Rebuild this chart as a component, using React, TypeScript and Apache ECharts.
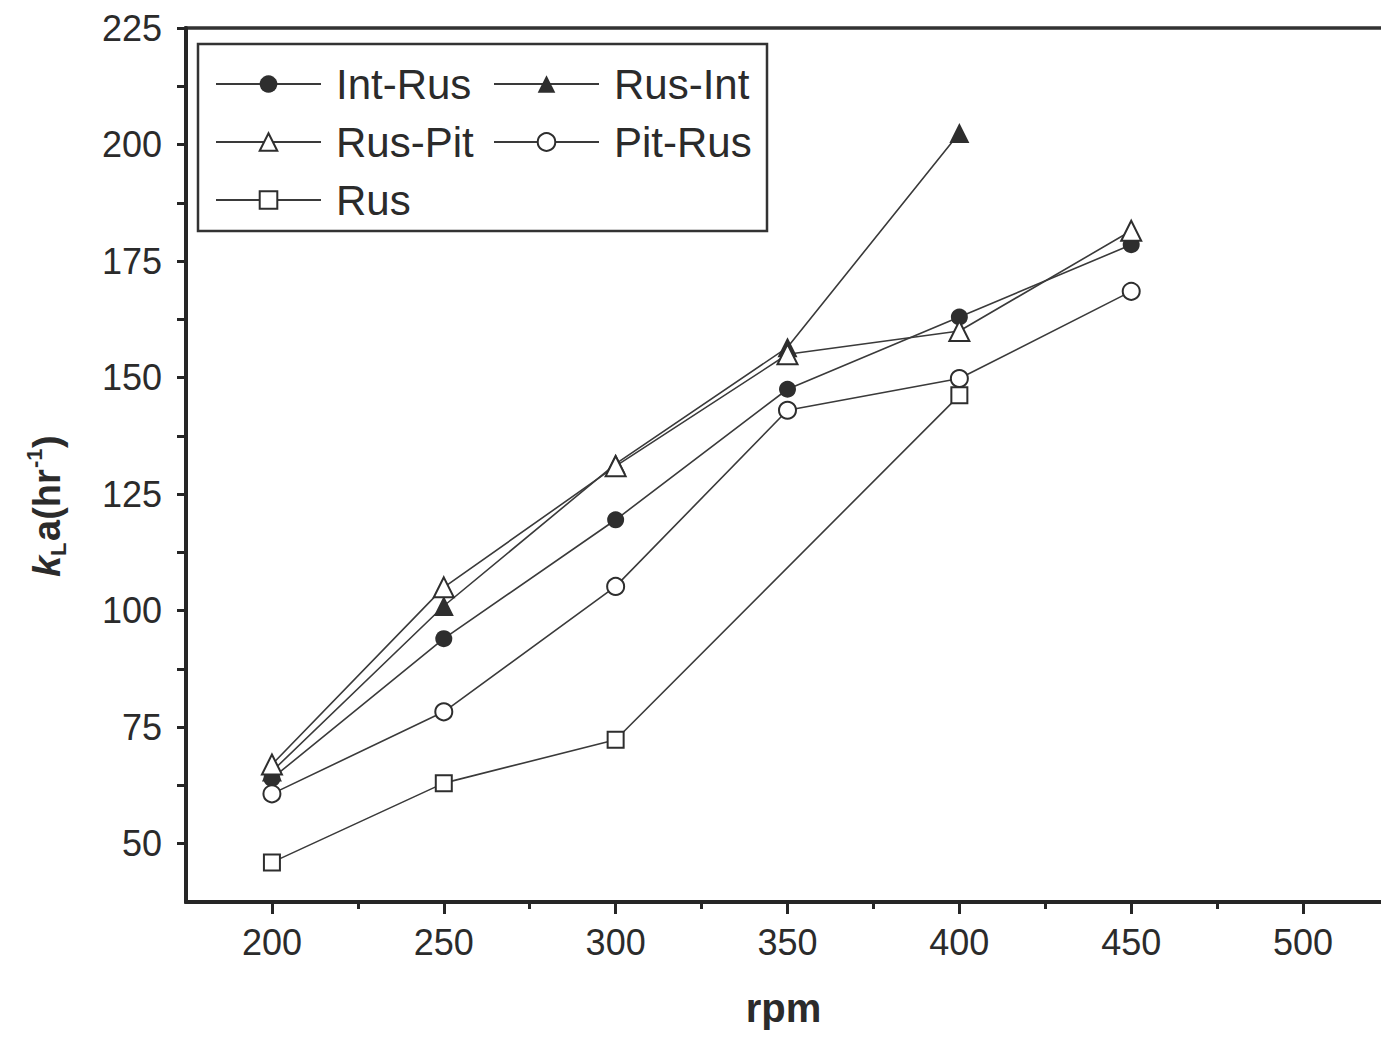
import React, { useEffect, useRef } from "react";
import * as echarts from "echarts";

// Stirring speed (rpm) and kLa (hr^-1) for each impeller combination
const rpm = [200, 250, 300, 350, 400, 450];
const intRus = [64, 94, 119.5, 147.5, 163, 178.5];
const rusInt = [65.5, 101, 131.5, 156.5, 202.5];
const rusPit = [67, 105, 131, 155, 160, 181.5];
const pitRus = [60.7, 78.3, 105.2, 143, 149.8, 168.5];
const rusRpm = [200, 250, 300, 400];
const rus = [46, 63, 72.3, 146.2];

const xLabelValues = [200, 250, 300, 350, 400, 450, 500];
const xMinorTicks = [225, 275, 325, 375, 425, 475, 525];
const yLabelValues = [50, 75, 100, 125, 150, 175, 200, 225];
const yTickValues = [50, 62.5, 75, 87.5, 100, 112.5, 125, 137.5, 150, 162.5, 175, 187.5, 200, 212.5, 225];

const FONT = "'Liberation Sans', Arial, sans-serif";
const INK = "#2b2b2b";
const LINE = "#3a3a3a";

const pair = (xs: number[], ys: number[]) => ys.map((y, i) => [xs[i], y]);

export default function App() {
  const ref = useRef<HTMLDivElement>(null);

  useEffect(() => {
    if (!ref.current) return;
    const chart = echarts.init(ref.current, undefined, { renderer: "svg" });

    const lineSeries = (name: string, data: number[][], symbol: string, size: number) => ({
      name,
      type: "line",
      data,
      symbol,
      symbolSize: size,
      xAxisIndex: 0,
      yAxisIndex: 0,
      lineStyle: { color: LINE, width: 1.6 },
      itemStyle: { color: "#2e2e2e", borderWidth: 2.4 },
      emphasis: { disabled: true },
    });

    const legendBase = {
      orient: "vertical",
      top: 63,
      itemWidth: 105,
      itemHeight: 22,
      itemGap: 16,
      padding: 0,
      selectedMode: false,
      textStyle: { fontSize: 42, color: INK, fontFamily: FONT, padding: [0, 0, 0, 10] },
    };

    chart.setOption({
      animation: false,
      backgroundColor: "#ffffff",
      grid: {
        left: 186,
        top: 28,
        right: 0,
        bottom: 142,
        show: true,
        borderColor: "#333",
        borderWidth: 3.5,
        containLabel: false,
      },
      legend: [
        { ...legendBase, left: 215, data: ["Int-Rus", "Rus-Pit", "Rus"] },
        { ...legendBase, left: 493, data: ["Rus-Int", "Pit-Rus"] },
      ],
      xAxis: [
        {
          type: "value",
          min: 175,
          max: 525,
          interval: 25,
          position: "bottom",
          name: "rpm",
          nameLocation: "middle",
          nameGap: 86,
          nameTextStyle: { fontSize: 40, fontWeight: "bold", color: INK, fontFamily: FONT, padding: [0, 8, 0, 0] },
          axisLine: { show: true, lineStyle: { color: "#262626", width: 4 } },
          axisTick: { show: true, customValues: xLabelValues, length: 12, lineStyle: { color: "#262626", width: 3 } },
          axisLabel: {
            customValues: xLabelValues,
            margin: 22,
            fontSize: 36,
            color: INK,
            fontFamily: FONT,
          },
          splitLine: { show: false },
        },
        {
          type: "value",
          min: 175,
          max: 525,
          interval: 25,
          position: "bottom",
          axisLine: { show: false },
          axisTick: { show: true, customValues: xMinorTicks, length: 7, lineStyle: { color: "#262626", width: 3 } },
          axisLabel: { show: false },
          splitLine: { show: false },
        },
      ],
      yAxis: {
        type: "value",
        min: 37.5,
        max: 225,
        interval: 12.5,
        axisLine: { show: true, lineStyle: { color: "#262626", width: 4 } },
        axisTick: { show: true, customValues: yTickValues, length: 9, lineStyle: { color: "#262626", width: 3 } },
        axisLabel: {
          customValues: yLabelValues,
          margin: 24,
          fontSize: 36,
          color: INK,
          fontFamily: FONT,
        },
        splitLine: { show: false },
      },
      series: [
        lineSeries("Int-Rus", pair(rpm, intRus), "circle", 17),
        lineSeries("Rus-Int", pair(rpm, rusInt), "triangle", 20),
        lineSeries("Rus-Pit", pair(rpm, rusPit), "emptyTriangle", 20),
        lineSeries("Pit-Rus", pair(rpm, pitRus), "emptyCircle", 17),
        lineSeries("Rus", pair(rusRpm, rus), "emptyRect", 16),
      ],
      graphic: [
        {
          type: "rect",
          shape: { x: 198, y: 44, width: 569, height: 187 },
          style: { fill: "none", stroke: "#333", lineWidth: 2.5 },
          z: 10,
        },
        {
          type: "group",
          x: 47,
          y: 505,
          rotation: Math.PI / 2,
          children: [
            {
              type: "text",
              x: -72,
              y: 0,
              style: { text: "k", font: `italic bold 38px ${FONT}`, fill: INK, verticalAlign: "middle" },
            },
            {
              type: "text",
              x: -51,
              y: 11,
              style: { text: "L", font: `bold 22px ${FONT}`, fill: INK, verticalAlign: "middle" },
            },
            {
              type: "text",
              x: -36,
              y: 0,
              style: { text: "a(hr", font: `bold 38px ${FONT}`, fill: INK, verticalAlign: "middle" },
            },
            {
              type: "text",
              x: 37,
              y: -13,
              style: { text: "-1", font: `bold 22px ${FONT}`, fill: INK, verticalAlign: "middle" },
            },
            {
              type: "text",
              x: 57,
              y: 0,
              style: { text: ")", font: `bold 38px ${FONT}`, fill: INK, verticalAlign: "middle" },
            },
          ],
        },
      ],
    });

    return () => chart.dispose();
  }, []);

  // The plot frame runs slightly past the right edge of the visible area
  return (
    <div style={{ position: "absolute", left: 0, top: 0, width: 1381, height: 1044, overflow: "hidden", background: "#fff" }}>
      <div ref={ref} style={{ width: 1389, height: 1044 }} />
    </div>
  );
}
